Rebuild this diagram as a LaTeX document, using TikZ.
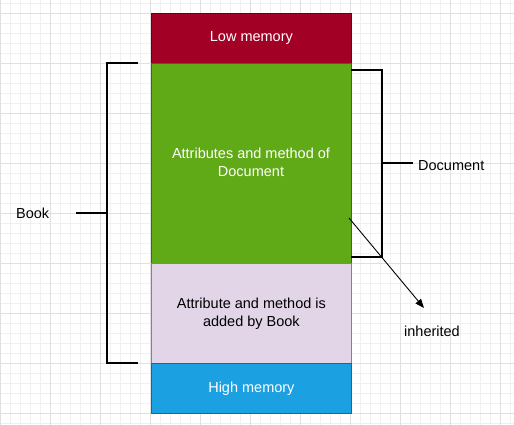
\documentclass[tikz,border=0pt]{standalone}
\usepackage{fontspec}
\setmainfont{Liberation Sans}
\usetikzlibrary{arrows.meta}
\definecolor{lowfill}{HTML}{A20025}
\definecolor{lowdraw}{HTML}{6F0000}
\definecolor{docfill}{HTML}{60A917}
\definecolor{docdraw}{HTML}{2D7600}
\definecolor{bookfill}{HTML}{E1D5E7}
\definecolor{bookdraw}{HTML}{9673A6}
\definecolor{highfill}{HTML}{1BA1E2}
\definecolor{highdraw}{HTML}{006EAF}
\definecolor{gridminor}{HTML}{F0F0F0}
\definecolor{gridmajor}{HTML}{E0E0E0}
\tikzset{
  memblock/.style={draw, line width=0.8pt, minimum width=200pt, inner sep=0pt, align=center, font=\fontsize{14.5}{18}\selectfont, anchor=north west},
  bracketline/.style={line width=2pt, line cap=butt},
  lbl/.style={font=\fontsize{14.5}{18}\selectfont, text=black, inner sep=0pt}
}
\begin{document}
\begin{tikzpicture}[x=1pt,y=-1pt]
\useasboundingbox (0,0) rectangle (514,425);
\fill[white] (0,0) rectangle (514,425);
% grid
\foreach \x in {0,10,...,510} \draw[gridminor, line width=0.8pt] (\x,0) -- (\x,425);
\foreach \y in {3,13,...,423} \draw[gridminor, line width=0.8pt] (0,\y) -- (514,\y);
\foreach \x in {0,50,...,500} \draw[gridmajor, line width=0.8pt] (\x,0) -- (\x,425);
\foreach \y in {13,63,...,413} \draw[gridmajor, line width=0.8pt] (0,\y) -- (514,\y);
% blocks
\node[memblock, fill=lowfill, draw=lowdraw, minimum height=50pt, text=white] (low) at (151,13) {Low memory};
\node[memblock, fill=docfill, draw=docdraw, minimum height=200pt, text=white] (doc) at (151,63) {};
\node[text=white, align=center, inner sep=0pt, font=\fontsize{14.5}{18}\selectfont] (doctext) at (251,162) {Attributes and method of\\Document};
\node[memblock, fill=bookfill, draw=bookdraw, minimum height=100pt, text=black] (book) at (151,263) {Attribute and method is\\added by Book};
\node[memblock, fill=highfill, draw=highdraw, minimum height=50pt, text=white] (high) at (151,363) {High memory};
% left bracket
\coordinate (bt) at (138,63);
\coordinate (bb) at (138,363);
\coordinate (bm) at (76,213);
\draw[bracketline] (bt) -- (107,63) -- (107,363) -- (bb);
\draw[bracketline] (107,213) -- (bm);
\node[lbl, anchor=west] (booklbl) at (16,213) {Book};
% right bracket
\coordinate (dt) at (351,70);
\coordinate (db) at (351,257);
\coordinate (dm) at (413,163);
\draw[bracketline] (dt) -- (382,70) -- (382,257) -- (db);
\draw[bracketline] (382,163) -- (dm);
\node[lbl, anchor=west] (doclbl) at (418,166) {Document};
% arrow
\coordinate (as) at (349,218);
\coordinate (ae) at (424,308);
\draw[line width=0.9pt, -{Triangle[length=9pt,width=7pt]}] (as) -- (ae);
\node[lbl] (inh) at (432,331) {inherited};
\end{tikzpicture}
\end{document}
